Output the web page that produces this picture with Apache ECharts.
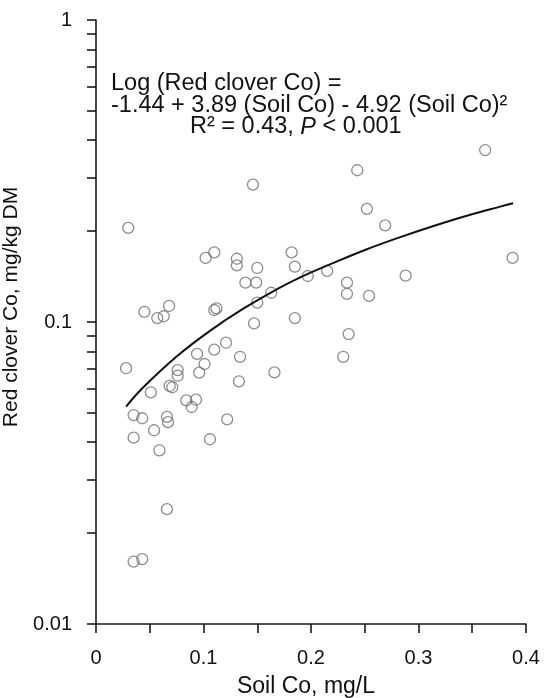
<!DOCTYPE html>
<html>
<head>
<meta charset="utf-8">
<script src="https://cdn.jsdelivr.net/npm/echarts@6/dist/echarts.min.js"></script>
<style>
  html, body { margin: 0; padding: 0; background: #fff; }
  #chart { width: 547px; height: 698px; }
</style>
</head>
<body>
<div id="chart"></div>
<script>
// Soil Co (mg/L) and red clover Co (mg/kg DM) for each sampled site
const soilCo = [
  0.030, 0.146, 0.102, 0.110, 0.131, 0.131, 0.150, 0.139, 0.149, 0.163,
  0.150, 0.182, 0.185, 0.197, 0.185, 0.147, 0.045, 0.057, 0.063, 0.068,
  0.110, 0.112, 0.121, 0.110, 0.094, 0.134, 0.243, 0.252, 0.269, 0.3875,
  0.215, 0.288, 0.2335, 0.2335, 0.254, 0.235, 0.230, 0.101, 0.028, 0.076,
  0.076, 0.096, 0.166, 0.133, 0.0685, 0.071, 0.051, 0.084, 0.093, 0.089,
  0.035, 0.043, 0.066, 0.067, 0.122, 0.054, 0.035, 0.106, 0.059, 0.066,
  0.035, 0.043, 0.362
];
const cloverCo = [
  0.205, 0.285, 0.163, 0.170, 0.162, 0.154, 0.151, 0.135, 0.135, 0.125,
  0.116, 0.170, 0.1525, 0.142, 0.103, 0.099, 0.108, 0.103, 0.1045, 0.113,
  0.1096, 0.111, 0.0854, 0.081, 0.0784, 0.0767, 0.318, 0.237, 0.209, 0.163,
  0.1476, 0.1424, 0.135, 0.124, 0.122, 0.0912, 0.0767, 0.0726, 0.0703, 0.0693,
  0.0664, 0.068, 0.0681, 0.0636, 0.0614, 0.0608, 0.0585, 0.055, 0.0553, 0.0523,
  0.0492, 0.048, 0.0485, 0.0466, 0.0476, 0.0438, 0.0414, 0.0409, 0.0376, 0.0240,
  0.0161, 0.0164, 0.371
];

// Quadratic regression curve, sampled along soil Co
const fitSoilCo = [0.028, 0.044, 0.075, 0.106, 0.137, 0.168, 0.190, 0.221, 0.252, 0.283, 0.314, 0.345, 0.376, 0.388];
const fitCloverCo = [0.0525, 0.0608, 0.0769, 0.0935, 0.1107, 0.1282, 0.1406, 0.1570, 0.1742, 0.1910, 0.2080, 0.2249, 0.2410, 0.2472];

// Axis ticks and labels
const xTicks = [0, 0.05, 0.1, 0.15, 0.2, 0.25, 0.3, 0.35, 0.4];
const xTickLabels = [0, 0.1, 0.2, 0.3, 0.4];
const yTicks = [0.01, 0.02, 0.03, 0.04, 0.05, 0.06, 0.07, 0.08, 0.09,
                0.1, 0.2, 0.3, 0.4, 0.5, 0.6, 0.7, 0.8, 0.9, 1];
const yTickLabels = [0.01, 0.1, 1];

const FONT = '"Liberation Sans", Arial, sans-serif';
const axisColor = '#1a1a1a';
const textColor = '#111';

const points = soilCo.map((x, i) => [x, cloverCo[i]]);
const fitLine = fitSoilCo.map((x, i) => [x, fitCloverCo[i]]);

const chart = echarts.init(document.getElementById('chart'), null, { renderer: 'canvas' });

chart.setOption({
  backgroundColor: '#ffffff',
  animation: false,
  grid: { left: 96, right: 21, top: 20, bottom: 74, containLabel: false, outerBoundsMode: 'none' },
  xAxis: {
    type: 'value',
    min: 0,
    max: 0.4,
    name: 'Soil Co, mg/L',
    nameLocation: 'middle',
    nameGap: 51,
    nameTextStyle: { fontFamily: FONT, fontSize: 23, color: textColor, padding: [0, 10, 0, 0] },
    axisLine: { show: true, onZero: false, lineStyle: { color: axisColor, width: 1.6 } },
    axisTick: { show: true, inside: false, length: 9, customValues: xTicks,
                lineStyle: { color: axisColor, width: 1.6 } },
    axisLabel: { customValues: xTickLabels, margin: 24, fontFamily: FONT, fontSize: 20, color: textColor,
                 formatter: v => String(v) },
    splitLine: { show: false }
  },
  yAxis: {
    type: 'log',
    logBase: 10,
    min: 0.01,
    max: 1,
    name: 'Red clover Co, mg/kg DM',
    nameLocation: 'middle',
    nameGap: 58,
    nameTextStyle: { fontFamily: FONT, fontSize: 21, color: textColor, padding: [0, 0, 0, 30] },
    axisLine: { show: true, lineStyle: { color: axisColor, width: 1.6 } },
    axisTick: { show: true, inside: false, length: 9, customValues: yTicks,
                lineStyle: { color: axisColor, width: 1.6 } },
    axisLabel: { customValues: yTickLabels, margin: 24, fontFamily: FONT, fontSize: 20, color: textColor,
                 formatter: v => String(v) },
    splitLine: { show: false }
  },
  graphic: [
    {
      type: 'text', left: 111, top: 72,
      style: { text: 'Log (Red clover Co) =', font: '23.5px ' + FONT, fill: textColor }
    },
    {
      type: 'text', left: 111, top: 94,
      style: { text: '-1.44 + 3.89 (Soil Co) - 4.92 (Soil Co)²', font: '23.5px ' + FONT, fill: textColor }
    },
    {
      type: 'text', left: 190, top: 115,
      style: {
        text: 'R² = 0.43, {i|P} < 0.001',
        font: '23.5px ' + FONT, fill: textColor,
        rich: { i: { fontStyle: 'italic', fontFamily: FONT, fontSize: 23.5, fill: textColor } }
      }
    }
  ],
  series: [
    {
      type: 'scatter',
      data: points,
      symbol: 'circle',
      symbolSize: 11,
      itemStyle: { color: 'rgba(255,255,255,0)', borderColor: '#707070', borderWidth: 1.3 },
      z: 2
    },
    {
      type: 'line',
      data: fitLine,
      smooth: 0.4,
      showSymbol: false,
      lineStyle: { color: '#111', width: 2 },
      z: 3
    }
  ]
});
</script>
</body>
</html>
